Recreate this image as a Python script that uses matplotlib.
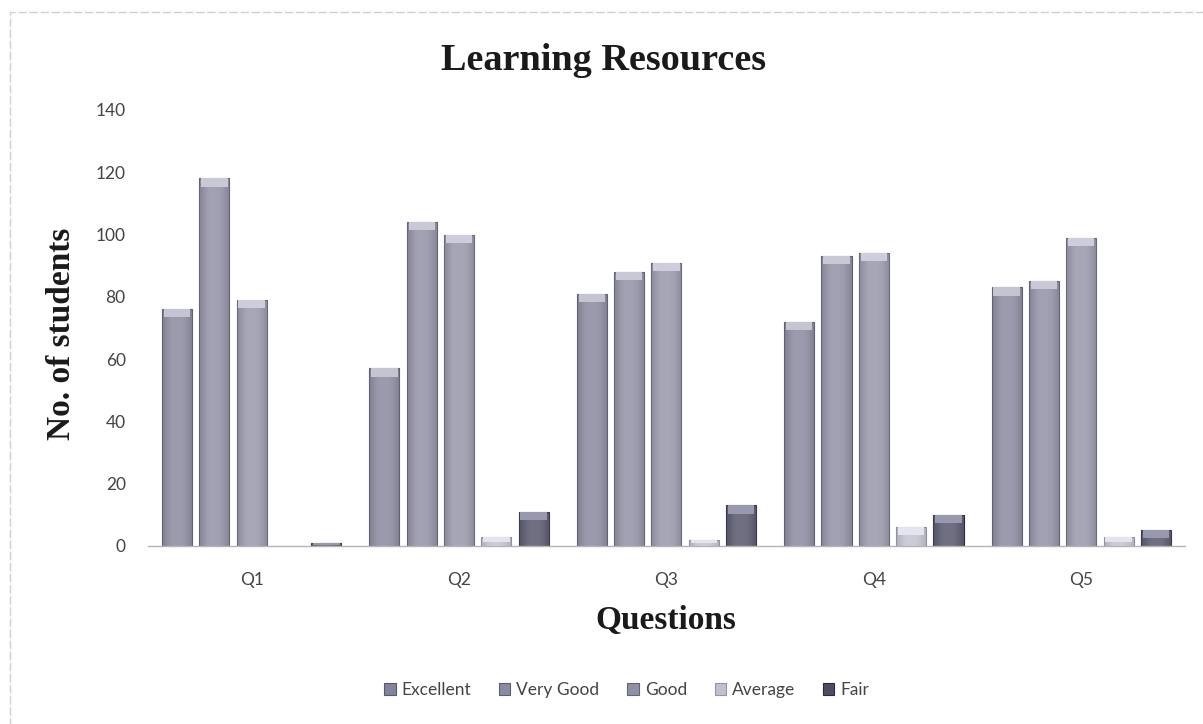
import numpy as np
import matplotlib.pyplot as plt
from matplotlib.patches import Rectangle

# Survey answers per question (number of students)
questions = ['Q1', 'Q2', 'Q3', 'Q4', 'Q5']
ratings = ['Excellent', 'Very Good', 'Good', 'Average', 'Fair']
excellent = [76, 57, 81, 72, 83]
very_good = [118, 104, 88, 93, 85]
good = [79, 100, 91, 94, 99]
average = [0, 3, 2, 6, 3]
fair = [1, 11, 13, 10, 5]

series = [excellent, very_good, good, average, fair]
base_colors = ['#83839a', '#8a8aa0', '#9191a6', '#c0c0cf', '#4c4c63']
edge_colors = ['#58586e', '#5c5c72', '#636379', '#9494a8', '#2a2a3c']
cap_colors = ['#c4c4d3', '#c8c8d6', '#cdcddb', '#e4e4ee', '#9898ae']

serif = ['Liberation Serif', 'DejaVu Serif']
sans = ['Lato', 'DejaVu Sans']

fig = plt.figure(figsize=(12.03, 7.24), dpi=100)
ax = fig.add_axes([0.1230, 0.2459, 0.8620, 0.6022])

x = np.arange(len(questions))
pitch = 0.18
width = 0.145
cap = 2.6  # height of the light top band, in data units

shade = np.array([[0.5, 0.8, 1.0, 1.0, 1.0, 0.95, 0.8, 0.5]])

for i, (vals, label) in enumerate(zip(series, ratings)):
    pos = x + (i - 2) * pitch
    bars = ax.bar(pos, vals, width, color=base_colors[i], edgecolor=edge_colors[i],
                  linewidth=0.8, label=label, zorder=2)
    # soft horizontal shading inside each bar
    for rect in bars:
        h = rect.get_height()
        if h <= 0:
            continue
        x0 = rect.get_x()
        im = ax.imshow(shade, cmap='gray', vmin=0, vmax=1, alpha=0.2, aspect='auto',
                       extent=(x0, x0 + width, 0, h), zorder=3, interpolation='bicubic')
        im.set_clip_path(rect)
    # lighter top band (3D cap look)
    vals_arr = np.array(vals, dtype=float)
    cap_h = np.minimum(cap, vals_arr * 0.6)
    ax.bar(pos, cap_h, width * 0.88, bottom=vals_arr - cap_h, color=cap_colors[i],
           linewidth=0, zorder=4)

ax.set_xlim(-0.5, len(questions) - 0.5)
ax.set_ylim(0, 140)
ax.set_yticks(np.arange(0, 141, 20))
ax.set_xticks(x)
ax.set_xticklabels(questions)

for side in ['top', 'right', 'left']:
    ax.spines[side].set_visible(False)
ax.spines['bottom'].set_color('#b4b4b4')
ax.spines['bottom'].set_linewidth(1.0)

ax.tick_params(axis='y', length=0, pad=16, labelsize=12.5, labelcolor='#444444')
ax.tick_params(axis='x', length=0, pad=19, labelsize=12.5, labelcolor='#444444')
for lab in ax.get_xticklabels() + ax.get_yticklabels():
    lab.set_family(sans)

fig.text(0.502, 0.916, 'Learning Resources', ha='center', va='center',
         fontsize=27.5, fontweight='bold', family=serif, color='#1a1a1a')
fig.text(0.0515, 0.5387, 'No. of students', ha='center', va='center', rotation=90,
         fontsize=24, fontweight='bold', family=serif, color='#1a1a1a')
fig.text(0.5536, 0.1423, 'Questions', ha='center', va='center',
         fontsize=24, fontweight='bold', family=serif, color='#1a1a1a')

leg = ax.legend(loc='center', bbox_to_anchor=(0.521, 0.047), bbox_transform=fig.transFigure,
                ncol=5, frameon=False, handlelength=0.65, handleheight=0.65,
                handletextpad=0.35, columnspacing=1.6,
                prop={'family': sans, 'size': 12.5})
for t in leg.get_texts():
    t.set_color('#444444')

# faint outer frame of the chart area
fig.patches.append(Rectangle((10 / 1203, -0.05), 1.2, 1 - 12 / 724 + 0.05,
                             transform=fig.transFigure, fill=False,
                             edgecolor='#cfcfcf', linewidth=1.0, linestyle=(0, (6, 2))))

fig.savefig('out.png', dpi=100)
